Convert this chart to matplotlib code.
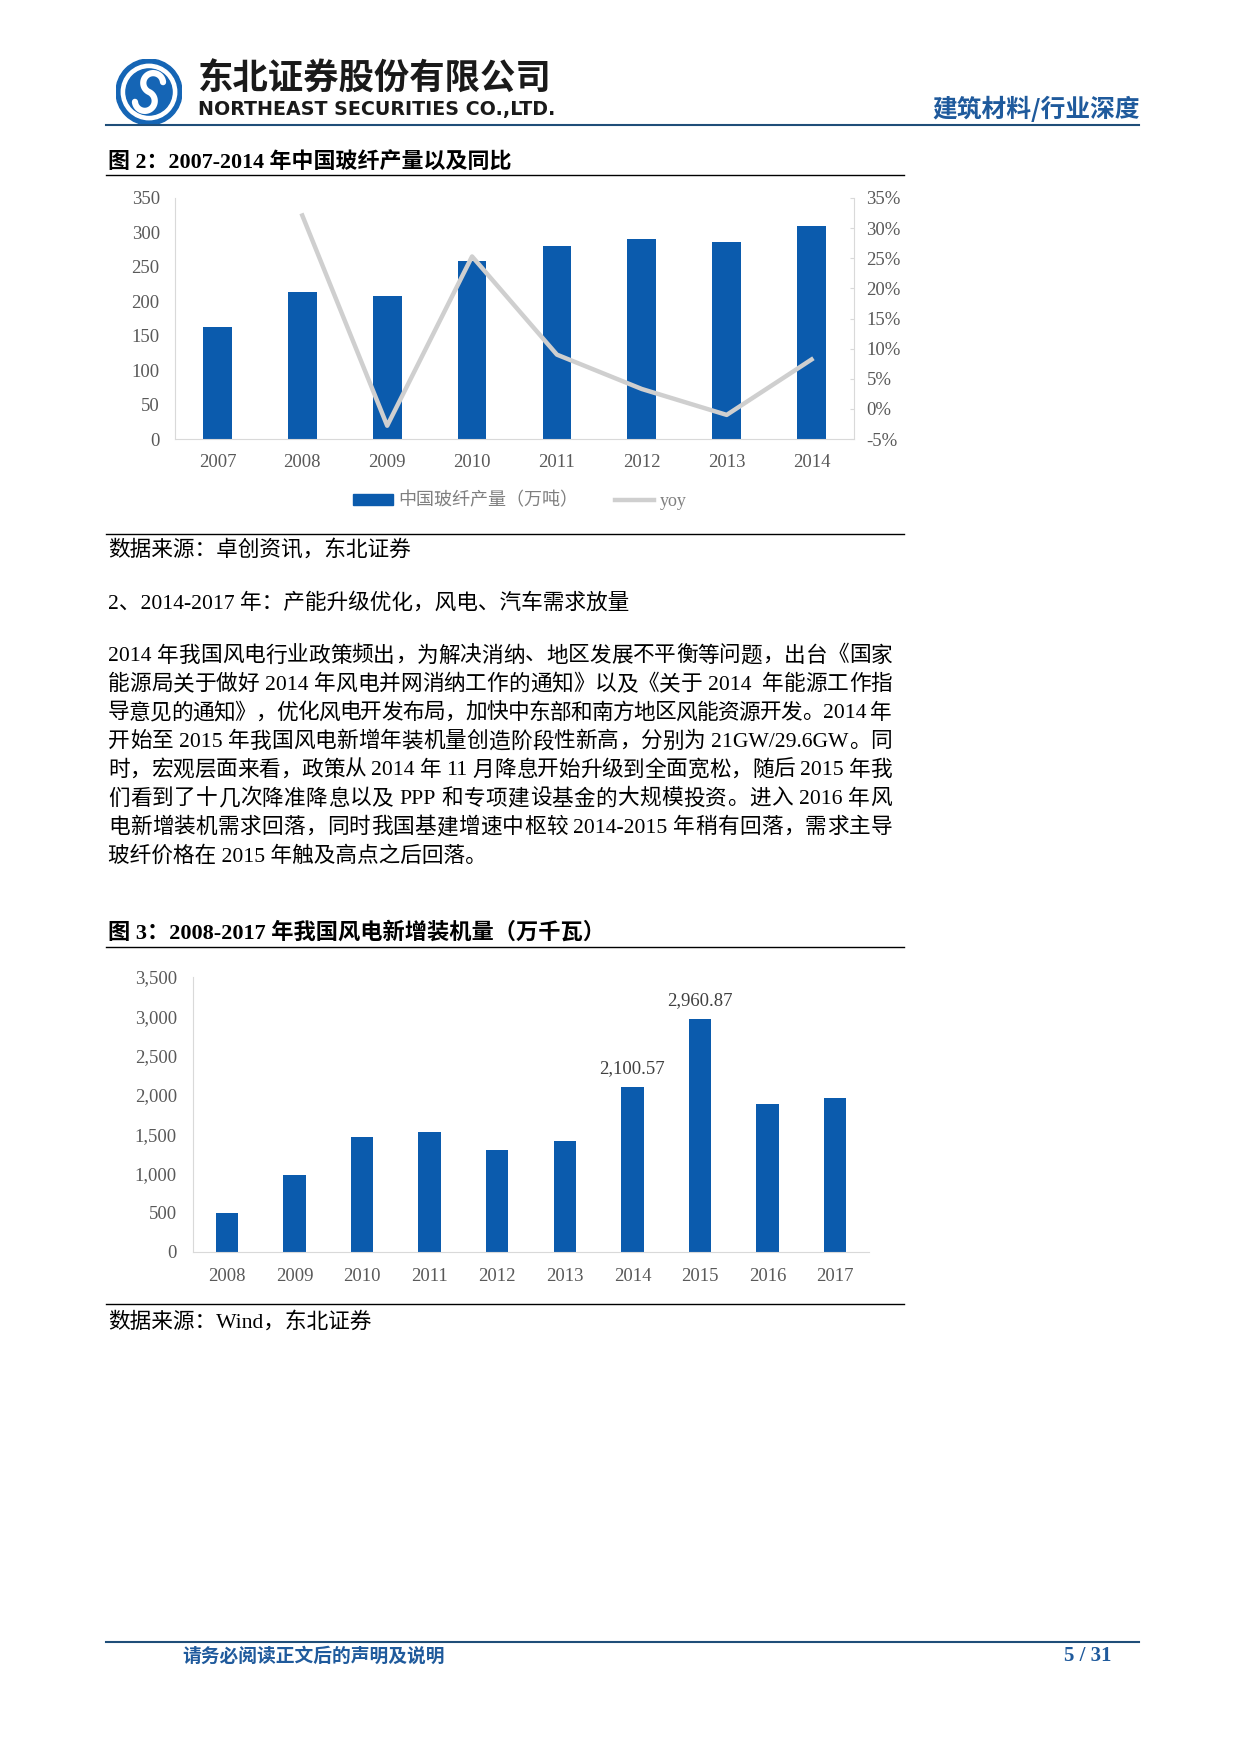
import re
import numpy as np
import matplotlib
matplotlib.use('Agg')
import matplotlib.pyplot as plt
from matplotlib.patches import Circle, Patch
from matplotlib.lines import Line2D
from matplotlib.ticker import FuncFormatter, MultipleLocator

W, H = 1241, 1754

# 图2: 中国玻纤产量 (万吨) 及同比 (%)
fiber_years = ['2007', '2008', '2009', '2010', '2011', '2012', '2013', '2014']
fiber_output = [162, 213, 207, 258, 280, 291, 286, 309]
fiber_yoy = [np.nan, 32.1, -2.8, 25.3, 9.0, 3.3, -1.0, 8.2]

# 图3: 我国风电新增装机量 (万千瓦)
wind_years = ['2008', '2009', '2010', '2011', '2012', '2013', '2014', '2015', '2016', '2017']
wind_added = [496, 982, 1464, 1528, 1299, 1413, 2100.57, 2960.87, 1883, 1959]
wind_labelled = ['2014', '2015']

paragraph = [
    '2014 年我国风电行业政策频出，为解决消纳、地区发展不平衡等问题，出台《国家',
    '能源局关于做好 2014 年风电并网消纳工作的通知》以及《关于 2014  年能源工作指',
    '导意见的通知》，优化风电开发布局，加快中东部和南方地区风能资源开发。2014 年',
    '开始至 2015 年我国风电新增年装机量创造阶段性新高，分别为 21GW/29.6GW。同',
    '时，宏观层面来看，政策从 2014 年 11 月降息开始升级到全面宽松，随后 2015 年我',
    '们看到了十几次降准降息以及 PPP 和专项建设基金的大规模投资。进入 2016 年风',
    '电新增装机需求回落，同时我国基建增速中枢较 2014-2015 年稍有回落，需求主导',
    '玻纤价格在 2015 年触及高点之后回落。',
]

SERIF = ['Liberation Serif', 'Noto Sans CJK SC']
CJK = ['Noto Sans CJK SC', 'DejaVu Sans']
BLUE = '#0B5BAD'
HEAD_BLUE = '#1F5A9C'
GREY = '#595959'
AXIS = '#D9D9D9'
BODY = 15.6


def fx(x):
    return x / W


def fy(y):
    return 1 - y / H


fig = plt.figure(figsize=(W / 100, H / 100), dpi=100)


def hline(y, x0, x1, color='black', lw=1.0):
    fig.add_artist(Line2D([fx(x0), fx(x1)], [fy(y), fy(y)], color=color, lw=lw))


def justify(line, y, x0, x1, size=BODY):
    toks = re.findall(r'[0-9A-Za-z./\-]+|.', line)
    objs = [fig.text(0, 0, t, fontsize=size, family=SERIF, va='center') for t in toks]
    r = fig.canvas.get_renderer()
    ws = [o.get_window_extent(r).width for o in objs]
    gap = (x1 - x0 - sum(ws)) / (len(toks) - 1)
    x = x0
    for o, w in zip(objs, ws):
        o.set_position((fx(x), fy(y)))
        x += w + gap


# ---- page header ----
logo = fig.add_axes([fx(115), fy(125), 68 / W, 66 / H])
logo.set_xlim(-1, 1)
logo.set_ylim(-1, 1)
logo.set_aspect('equal')
logo.axis('off')
logo.add_patch(Circle((0, 0), 1.0, color='#1565B5'))
logo.add_patch(Circle((0, 0), 0.84, color='white'))
logo.add_patch(Circle((0, 0), 0.70, color='#1565B5'))
t1 = np.radians(np.linspace(30, 270, 60))
t2 = np.radians(np.linspace(90, -150, 60))
sx = np.concatenate([0.3 * np.cos(t1), 0.3 * np.cos(t2)])
sy = np.concatenate([0.3 + 0.3 * np.sin(t1), -0.3 + 0.3 * np.sin(t2)])
rot = np.radians(-25)
logo.plot(sx * np.cos(rot) - sy * np.sin(rot), sx * np.sin(rot) + sy * np.cos(rot),
          color='white', lw=4.5, solid_capstyle='round')

fig.text(fx(198), fy(79), '东北证券股份有限公司', fontsize=25.5, weight='bold',
         family=CJK, va='center', color='#1a1a1a')
fig.text(fx(198), fy(110), 'NORTHEAST SECURITIES CO.,LTD.', fontsize=13.7, weight='bold',
         family='DejaVu Sans', va='center', color='#1a1a1a')
fig.text(fx(1140), fy(109), '建筑材料/行业深度', fontsize=17.8, weight='bold',
         family=CJK, va='center', ha='right', color=HEAD_BLUE)
hline(125, 106, 1139, color='#1F4E79', lw=1.5)

# ---- figure 2 ----
fig.text(fx(108), fy(162), '图 2：2007-2014 年中国玻纤产量以及同比', fontsize=15.8,
         weight='bold', family=SERIF, va='center')
hline(175, 106, 904)

ax1 = fig.add_axes([fx(175), fy(439), (854 - 175) / W, (439 - 198) / H])
x1 = np.arange(len(fiber_years))
ax1.bar(x1, fiber_output, width=0.34, color=BLUE, zorder=2)
ax1.set_xlim(-0.5, len(fiber_years) - 0.5)
ax1.set_ylim(0, 350)
ax1.yaxis.set_major_locator(MultipleLocator(50))
ax1.set_xticks(x1, fiber_years)
for s in ['top', 'right']:
    ax1.spines[s].set_visible(False)
for s in ['left', 'bottom']:
    ax1.spines[s].set_color(AXIS)
ax1.tick_params(axis='y', length=0, pad=11, labelsize=13.5, labelcolor=GREY)
ax1.tick_params(axis='x', length=0, pad=11, labelsize=13.5, labelcolor=GREY)

ax1b = ax1.twinx()
ax1b.plot(x1, fiber_yoy, color='#CFCFCF', lw=3.2)
ax1b.set_ylim(-5, 35)
ax1b.yaxis.set_major_locator(MultipleLocator(5))
ax1b.yaxis.set_major_formatter(FuncFormatter(lambda v, p: f'{v:.0f}%'))
for s in ['top', 'left', 'bottom']:
    ax1b.spines[s].set_visible(False)
ax1b.spines['right'].set_color(AXIS)
ax1b.tick_params(axis='y', direction='in', length=3, color=AXIS, pad=9,
                 labelsize=13.5, labelcolor=GREY)
for a in [ax1, ax1b]:
    for lab in a.get_xticklabels() + a.get_yticklabels():
        lab.set_family(SERIF)

handles = [Patch(color=BLUE), Line2D([], [], color='#CFCFCF', lw=3.2)]
leg = fig.legend(handles, ['中国玻纤产量（万吨）', 'yoy'], loc='center',
                 bbox_to_anchor=(fx(520), fy(501)), ncol=2, frameon=False,
                 handlelength=2.2, handleheight=0.55, columnspacing=2.0,
                 handletextpad=0.3, prop={'family': SERIF, 'size': 13})
for t in leg.get_texts():
    t.set_color('#7F7F7F')

hline(534, 106, 904)
fig.text(fx(108), fy(550), '数据来源：卓创资讯，东北证券', fontsize=BODY,
         family=SERIF, va='center')

# ---- body text ----
fig.text(fx(108), fy(603), '2、2014-2017 年：产能升级优化，风电、汽车需求放量',
         fontsize=BODY, family=SERIF, va='center')
for i, line in enumerate(paragraph):
    y = 656.5 + i * 28.6
    if i < len(paragraph) - 1:
        justify(line, y, 108, 892)
    else:
        fig.text(fx(108), fy(y), line, fontsize=BODY, family=SERIF, va='center')

# ---- figure 3 ----
fig.text(fx(108), fy(933), '图 3：2008-2017 年我国风电新增装机量（万千瓦）', fontsize=16,
         weight='bold', family=SERIF, va='center')
hline(947, 106, 904)

ax2 = fig.add_axes([fx(193), fy(1252), (869 - 193) / W, (1252 - 977) / H])
x2 = np.arange(len(wind_years))
ax2.bar(x2, wind_added, width=0.33, color=BLUE, zorder=2)
ax2.set_xlim(-0.5, len(wind_years) - 0.5)
ax2.set_ylim(0, 3500)
ax2.yaxis.set_major_locator(MultipleLocator(500))
ax2.yaxis.set_major_formatter(FuncFormatter(lambda v, p: f'{v:,.0f}'))
ax2.set_xticks(x2, wind_years)
for s in ['top', 'right']:
    ax2.spines[s].set_visible(False)
for s in ['left', 'bottom']:
    ax2.spines[s].set_color(AXIS)
ax2.tick_params(axis='both', length=0, pad=11.5, labelsize=13.5, labelcolor=GREY)
for lab in ax2.get_xticklabels() + ax2.get_yticklabels():
    lab.set_family(SERIF)
for xi, yr, v in zip(x2, wind_years, wind_added):
    if yr in wind_labelled:
        ax2.annotate(f'{v:,.2f}', (xi, v), xytext=(0, 13.5), textcoords='offset points',
                     ha='center', va='center', fontsize=13.5, color='#404040',
                     family=SERIF)

hline(1304, 106, 904)
fig.text(fx(108), fy(1322), '数据来源：Wind，东北证券', fontsize=BODY,
         family=SERIF, va='center')

# ---- footer ----
hline(1642, 106, 1139, color='#1F4E79', lw=1.5)
fig.text(fx(182), fy(1656), '请务必阅读正文后的声明及说明', fontsize=13.5, weight='bold',
         family=CJK, va='center', color=HEAD_BLUE)
fig.text(fx(1111), fy(1656), '5 / 31', fontsize=15, weight='bold',
         family=SERIF, va='center', ha='right', color=HEAD_BLUE)

fig.savefig('out.png', dpi=100)
